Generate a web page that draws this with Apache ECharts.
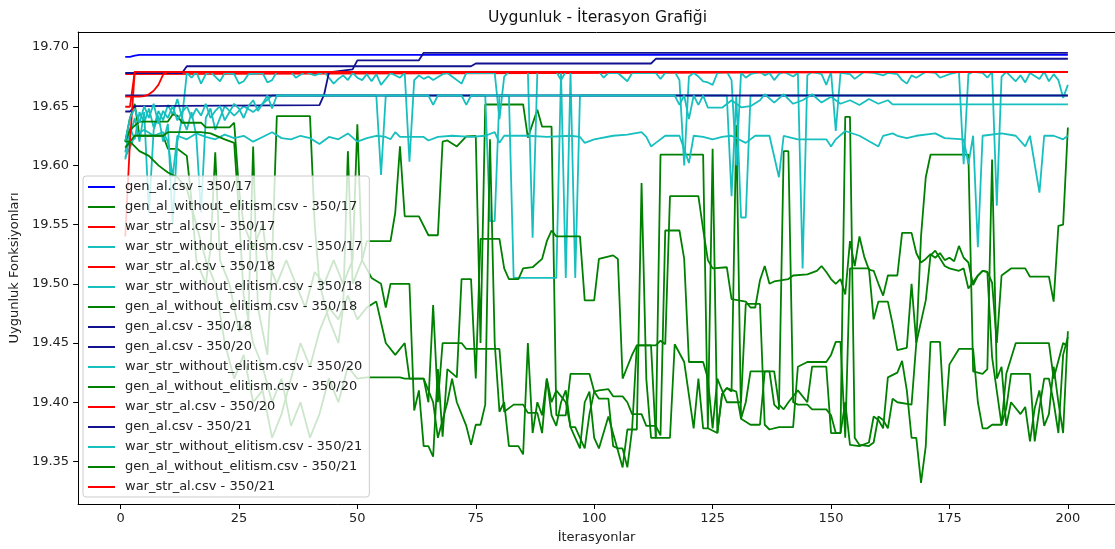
<!DOCTYPE html>
<html><head><meta charset="utf-8">
<script src="https://cdn.jsdelivr.net/npm/echarts@6/dist/echarts.min.js"></script>
<style>html,body{margin:0;padding:0;background:#fff}#c{width:1115px;height:549px}</style>
</head><body><div id="c"></div>
<script>
const xTicks = [0,25,50,75,100,125,150,175,200];
const yTicks = [19.35,19.40,19.45,19.50,19.55,19.60,19.65,19.70];
const seriesNames = [
 'gen_al.csv - 350/17','gen_al_without_elitism.csv - 350/17','war_str_al.csv - 350/17','war_str_without_elitism.csv - 350/17',
 'war_str_al.csv - 350/18','war_str_without_elitism.csv - 350/18','gen_al_without_elitism.csv - 350/18','gen_al.csv - 350/18',
 'gen_al.csv - 350/20','war_str_without_elitism.csv - 350/20','gen_al_without_elitism.csv - 350/20','war_str_al.csv - 350/20',
 'gen_al.csv - 350/21','war_str_without_elitism.csv - 350/21','gen_al_without_elitism.csv - 350/21','war_str_al.csv - 350/21'];

const genAl17 = [[1,19.6916],[2,19.6916],[3,19.6927],[4,19.6933],[200,19.6933]];
const genAl18 = [[1,19.678],[13,19.678],[14,19.6837],[74,19.6837],[75,19.686],[112,19.686],[113,19.690],[200,19.690]];
const genAl20 = [[1,19.6455],[2,19.6455],[3,19.650],[42,19.6509],[43,19.66],[44,19.6785],[49,19.681],[50,19.6887],[63,19.6887],[64,19.695],[200,19.695]];
const genAl21 = [[1,19.659],[200,19.659]];

const warAl17 = [[1,19.677],[200,19.679]];
const warAl18 = [[1,19.6495],[2,19.6495],[3,19.679],[200,19.679]];
const warAl20 = [[1,19.54],[2,19.62],[3,19.679],[200,19.679]];
const warAl21 = [[1,19.658],[4,19.658],[5,19.6585],[6,19.66],[7,19.663],[8,19.668],[9,19.6767],[10,19.679],[200,19.679]];

const warWo17 = [[1,19.611],[2,19.632],[3,19.622],[4,19.645],[5,19.636],[6,19.648],[7,19.632],[8,19.646],[9,19.638],[10,19.651],[11,19.643],[12,19.656],[13,19.64],[14,19.678],[15,19.674],[16,19.679],[17,19.669],[18,19.677],[19,19.679],[21,19.671],[22,19.678],[24,19.677],[25,19.669],[26,19.671],[27,19.677],[30,19.678],[31,19.67],[32,19.672],[33,19.679],[36,19.679],[37,19.674],[39,19.679],[41,19.676],[43,19.679],[45,19.669],[46,19.673],[47,19.676],[48,19.672],[49,19.678],[50,19.674],[51,19.672],[52,19.677],[53,19.671],[54,19.677],[55,19.668],[57,19.678],[59,19.674],[60,19.678],[61,19.603],[62,19.672],[63,19.676],[64,19.673],[65,19.675],[66,19.672],[68,19.677],[69,19.678],[70,19.675],[72,19.669],[73,19.678],[79,19.678],[80,19.639],[81,19.675],[82,19.679],[86,19.679],[87,19.539],[88,19.679],[92,19.679],[93,19.672],[94,19.679],[101,19.679],[102,19.674],[103,19.678],[105,19.678],[107,19.671],[108,19.678],[113,19.678],[114,19.673],[115,19.678],[117,19.679],[118,19.672],[119,19.60],[120,19.675],[121,19.678],[122,19.675],[123,19.671],[124,19.67],[125,19.668],[126,19.678],[128,19.679],[129,19.672],[130,19.60],[131,19.678],[132,19.674],[133,19.677],[135,19.679],[136,19.676],[137,19.678],[138,19.672],[139,19.677],[140,19.679],[142,19.675],[143,19.678],[144,19.513],[145,19.676],[146,19.679],[148,19.677],[149,19.668],[150,19.679],[151,19.629],[152,19.678],[154,19.677],[155,19.673],[157,19.679],[159,19.678],[161,19.676],[162,19.678],[164,19.677],[165,19.672],[166,19.669],[167,19.676],[168,19.674],[170,19.679],[172,19.678],[173,19.674],[175,19.677],[177,19.679],[178,19.601],[179,19.677],[180,19.679],[182,19.678],[183,19.674],[184,19.679],[185,19.566],[186,19.675],[187,19.679],[189,19.671],[190,19.676],[191,19.67],[192,19.678],[194,19.673],[195,19.679],[196,19.671],[197,19.677],[198,19.672],[199,19.657],[200,19.668]];
const warWo18 = [[1,19.605],[2,19.625],[3,19.64],[4,19.62],[5,19.645],[6,19.56],[7,19.63],[8,19.642],[9,19.62],[10,19.635],[11,19.55],[12,19.62],[13,19.64],[14,19.63],[15,19.645],[16,19.625],[17,19.56],[18,19.64],[19,19.648],[20,19.63],[22,19.65],[24,19.642],[26,19.65],[28,19.645],[30,19.652],[32,19.659],[54,19.659],[55,19.592],[56,19.659],[77,19.659],[78,19.553],[79,19.553],[80,19.659],[82,19.659],[83,19.505],[92,19.505],[93,19.678],[94,19.505],[95,19.678],[96,19.505],[97,19.659],[128,19.659],[129,19.574],[130,19.659],[131,19.556],[132,19.556],[133,19.659],[200,19.659]];
const warWo20 = [[1,19.607],[2,19.615],[3,19.625],[5,19.63],[7,19.625],[9,19.628],[10,19.62],[11,19.59],[12,19.625],[14,19.622],[16,19.627],[18,19.624],[20,19.622],[22,19.626],[24,19.623],[26,19.625],[28,19.62],[30,19.624],[32,19.628],[34,19.623],[36,19.622],[38,19.625],[40,19.623],[42,19.618],[44,19.624],[46,19.622],[48,19.627],[50,19.62],[52,19.623],[54,19.625],[56,19.624],[57,19.622],[58,19.628],[59,19.624],[64,19.624],[65,19.621],[67,19.624],[70,19.625],[74,19.624],[77,19.625],[79,19.628],[80,19.619],[81,19.625],[86,19.625],[90,19.624],[95,19.625],[97,19.624],[98,19.619],[100,19.622],[104,19.625],[107,19.626],[110,19.628],[111,19.624],[112,19.616],[113,19.619],[115,19.625],[118,19.625],[120,19.602],[121,19.625],[123,19.624],[125,19.622],[127,19.624],[129,19.625],[132,19.619],[134,19.625],[137,19.625],[139,19.59],[140,19.625],[143,19.622],[149,19.622],[150,19.616],[151,19.622],[153,19.629],[156,19.625],[160,19.616],[161,19.625],[163,19.627],[164,19.625],[166,19.623],[168,19.625],[172,19.627],[174,19.623],[178,19.622],[179,19.601],[180,19.625],[181,19.531],[182,19.625],[186,19.627],[189,19.625],[191,19.616],[192,19.625],[194,19.577],[195,19.625],[197,19.625],[199,19.622],[200,19.625]];
const warWo21 = [[1,19.62],[2,19.64],[3,19.648],[4,19.636],[5,19.65],[6,19.64],[7,19.652],[8,19.635],[9,19.646],[10,19.64],[11,19.65],[12,19.638],[13,19.645],[14,19.65],[15,19.64],[16,19.648],[17,19.642],[18,19.652],[19,19.64],[20,19.646],[21,19.65],[22,19.638],[23,19.645],[24,19.652],[25,19.648],[26,19.64],[27,19.65],[28,19.655],[29,19.646],[30,19.652],[31,19.659],[32,19.648],[33,19.659],[65,19.659],[66,19.651],[67,19.659],[72,19.659],[73,19.651],[74,19.659],[117,19.659],[118,19.651],[119,19.659],[120,19.639],[121,19.659],[122,19.651],[123,19.659],[124,19.6487],[127,19.6487],[129,19.655],[131,19.649],[133,19.65],[135,19.655],[136,19.66],[138,19.653],[140,19.66],[142,19.652],[144,19.655],[146,19.66],[148,19.653],[150,19.658],[152,19.652],[154,19.655],[156,19.651],[158,19.656],[160,19.652],[162,19.655],[163,19.6515],[200,19.6515]];

const genWo17 = [[1,19.62],[2,19.64],[3,19.652],[4,19.625],[9,19.625],[10,19.614],[12,19.614],[14,19.608],[15,19.57],[16,19.52],[18,19.50],[19,19.53],[20,19.611],[21,19.52],[23,19.50],[25,19.46],[27,19.47],[28,19.616],[29,19.48],[31,19.44],[32,19.52],[33,19.6416],[40,19.6416],[41,19.55],[42,19.50],[44,19.47],[46,19.45],[47,19.48],[48,19.612],[49,19.50],[51,19.52],[52,19.536],[57,19.536],[58,19.56],[59,19.616],[60,19.557],[63,19.557],[65,19.541],[67,19.541],[68,19.62],[69,19.621],[71,19.616],[73,19.6245],[75,19.6248],[76,19.45],[77,19.6514],[85,19.6514],[86,19.6234],[88,19.647],[89,19.6327],[91,19.6327],[92,19.389],[94,19.389],[95,19.424],[99,19.424],[100,19.409],[101,19.403],[103,19.403],[104,19.363],[105,19.361],[106,19.361],[107,19.345],[108,19.377],[109,19.377],[110,19.585],[111,19.42],[112,19.37],[113,19.37],[114,19.609],[123,19.609],[124,19.378],[125,19.614],[126,19.374],[127,19.407],[128,19.412],[129,19.409],[130,19.634],[131,19.386],[132,19.40],[133,19.426],[137,19.426],[138,19.398],[139,19.394],[140,19.612],[141,19.612],[142,19.40],[143,19.398],[145,19.398],[146,19.394],[149,19.394],[150,19.389],[151,19.374],[152,19.374],[153,19.641],[154,19.641],[155,19.37],[156,19.364],[158,19.363],[159,19.366],[160,19.388],[161,19.385],[162,19.378],[163,19.403],[164,19.40],[167,19.398],[168,19.45],[169,19.54],[170,19.59],[171,19.609],[179,19.609],[180,19.426],[182,19.424],[183,19.428],[184,19.605],[185,19.42],[186,19.43],[187,19.38],[188,19.40],[190,19.39],[191,19.396],[192,19.367],[193,19.395],[194,19.41],[195,19.38],[196,19.39],[197,19.43],[198,19.40],[199,19.374],[200,19.46]];
const genWo18 = [[1,19.62],[2,19.63],[4,19.637],[10,19.637],[11,19.643],[12,19.642],[13,19.636],[17,19.636],[18,19.632],[23,19.632],[24,19.636],[25,19.58],[26,19.55],[28,19.53],[30,19.55],[31,19.52],[33,19.50],[35,19.52],[37,19.50],[39,19.48],[41,19.51],[43,19.50],[45,19.52],[47,19.50],[49,19.52],[50,19.6346],[51,19.52],[53,19.505],[55,19.50],[56,19.48],[57,19.50],[61,19.50],[62,19.393],[63,19.41],[64,19.363],[65,19.363],[66,19.354],[67,19.428],[68,19.371],[69,19.428],[71,19.421],[72,19.504],[74,19.504],[75,19.42],[76,19.538],[80,19.538],[81,19.513],[82,19.504],[84,19.504],[85,19.513],[87,19.514],[89,19.521],[90,19.536],[91,19.545],[92,19.54],[97,19.54],[98,19.486],[100,19.486],[101,19.521],[104,19.524],[105,19.521],[106,19.42],[107,19.43],[108,19.44],[109,19.448],[113,19.448],[114,19.452],[115,19.449],[116,19.574],[122,19.574],[123,19.546],[124,19.52],[125,19.513],[128,19.514],[129,19.487],[132,19.485],[133,19.48],[134,19.48],[135,19.503],[136,19.515],[137,19.50],[138,19.502],[141,19.504],[142,19.507],[145,19.508],[147,19.511],[148,19.515],[149,19.51],[150,19.504],[151,19.50],[152,19.504],[153,19.491],[154,19.536],[155,19.515],[156,19.54],[157,19.523],[158,19.512],[159,19.511],[160,19.50],[161,19.49],[162,19.507],[164,19.507],[165,19.543],[167,19.543],[168,19.526],[169,19.518],[170,19.521],[171,19.525],[172,19.522],[173,19.526],[174,19.52],[175,19.522],[176,19.519],[177,19.532],[178,19.522],[179,19.518],[180,19.499],[181,19.507],[182,19.511],[183,19.51],[184,19.501],[185,19.45],[186,19.507],[188,19.513],[191,19.513],[192,19.506],[196,19.506],[197,19.485],[198,19.549],[199,19.55],[200,19.632]];
const genWo20 = [[1,19.615],[3,19.625],[9,19.625],[10,19.628],[17,19.628],[19,19.627],[22,19.622],[24,19.619],[25,19.56],[26,19.49],[28,19.45],[30,19.43],[32,19.40],[34,19.42],[36,19.38],[38,19.40],[40,19.37],[42,19.39],[44,19.42],[46,19.40],[48,19.43],[50,19.42],[52,19.421],[59,19.421],[60,19.42],[64,19.42],[65,19.40],[66,19.482],[67,19.40],[68,19.45],[72,19.45],[73,19.445],[80,19.445],[81,19.392],[83,19.398],[85,19.398],[86,19.391],[88,19.391],[89,19.374],[90,19.42],[91,19.40],[92,19.41],[94,19.40],[95,19.379],[96,19.379],[97,19.37],[98,19.361],[99,19.39],[100,19.409],[101,19.41],[103,19.411],[104,19.405],[106,19.405],[107,19.40],[108,19.39],[110,19.39],[111,19.38],[113,19.38],[114,19.372],[115,19.545],[118,19.545],[119,19.521],[120,19.434],[123,19.434],[124,19.42],[125,19.378],[126,19.42],[128,19.40],[131,19.40],[132,19.483],[135,19.483],[136,19.381],[137,19.377],[139,19.379],[142,19.379],[143,19.43],[145,19.434],[149,19.434],[150,19.44],[151,19.451],[152,19.451],[153,19.37],[154,19.513],[158,19.513],[159,19.47],[160,19.485],[162,19.485],[163,19.466],[164,19.444],[166,19.446],[167,19.50],[168,19.45],[170,19.486],[171,19.524],[172,19.528],[174,19.515],[175,19.513],[177,19.511],[178,19.513],[179,19.496],[181,19.507],[182,19.511],[183,19.51],[184,19.438],[186,19.381],[187,19.424],[189,19.45],[196,19.45],[197,19.42],[199,19.45],[200,19.447]];
const genWo21 = [[1,19.62],[2,19.62],[4,19.612],[6,19.608],[8,19.60],[10,19.594],[12,19.59],[14,19.58],[16,19.55],[18,19.52],[20,19.50],[22,19.45],[24,19.42],[26,19.44],[28,19.40],[30,19.41],[32,19.37],[34,19.39],[36,19.42],[38,19.45],[40,19.43],[42,19.46],[44,19.48],[46,19.47],[48,19.49],[50,19.47],[52,19.48],[54,19.485],[56,19.45],[58,19.44],[60,19.45],[61,19.42],[64,19.42],[66,19.40],[67,19.37],[69,19.40],[70,19.42],[71,19.40],[73,19.38],[74,19.364],[75,19.381],[76,19.381],[77,19.398],[78,19.622],[79,19.45],[80,19.392],[81,19.40],[82,19.363],[84,19.363],[85,19.356],[86,19.45],[87,19.374],[88,19.40],[89,19.389],[90,19.42],[91,19.389],[92,19.38],[93,19.40],[94,19.41],[95,19.379],[96,19.37],[97,19.361],[98,19.40],[99,19.409],[100,19.37],[101,19.361],[103,19.388],[106,19.345],[107,19.377],[108,19.377],[109,19.448],[112,19.448],[113,19.37],[116,19.37],[117,19.449],[119,19.434],[121,19.378],[122,19.42],[123,19.378],[124,19.378],[126,19.374],[127,19.407],[128,19.412],[130,19.409],[131,19.386],[133,19.381],[135,19.381],[136,19.426],[138,19.426],[139,19.398],[140,19.394],[141,19.40],[143,19.41],[145,19.40],[146,19.43],[149,19.43],[150,19.374],[152,19.374],[153,19.40],[154,19.364],[156,19.363],[158,19.366],[159,19.388],[160,19.385],[161,19.378],[162,19.421],[164,19.425],[165,19.435],[166,19.41],[167,19.37],[168,19.37],[169,19.332],[170,19.363],[171,19.451],[173,19.451],[174,19.38],[175,19.432],[177,19.445],[180,19.445],[181,19.40],[182,19.378],[183,19.378],[184,19.381],[186,19.381],[187,19.395],[188,19.424],[192,19.424],[193,19.367],[194,19.395],[195,19.42],[196,19.42],[197,19.40],[198,19.374],[199,19.44],[200,19.455]];

const BLUE='#0000ff', NAVY='#12128f', GREEN='#008000', RED='#ff0000', CYAN='#17bfbf';
const seriesData = [genAl17, genWo17, warAl17, warWo17, warAl18, warWo18, genWo18, genAl18, genAl20, warWo20, genWo20, warAl20, genAl21, warWo21, genWo21, warAl21];
const seriesColors = [BLUE, GREEN, RED, CYAN, RED, CYAN, GREEN, NAVY, NAVY, CYAN, GREEN, RED, NAVY, CYAN, GREEN, RED];

const FONT = 'DejaVu Sans';
const chart = echarts.init(document.getElementById('c'), null, {renderer:'canvas'});
chart.setOption({
  animation: false,
  backgroundColor: '#fff',
  textStyle: {fontFamily: FONT},
  graphic: [{type:'text', x:597.5, y:18, style:{text:'Uygunluk - İterasyon Grafiği', font:'15.6px "DejaVu Sans"', fill:'#111', textAlign:'center', textVerticalAlign:'middle'}}],
  grid: {left:77, top:32, width:1041, height:474, show:false},
  xAxis: [{type:'value', min:-8.95, max:209.95, splitLine:{show:false},
    axisLine:{show:true, onZero:false, lineStyle:{color:'#000', width:1}},
    axisTick:{show:true, inside:false, length:5, customValues:xTicks, lineStyle:{color:'#000'}},
    axisLabel:{customValues:xTicks, fontSize:13, color:'#222', margin:8, fontFamily:FONT},
    name:'İterasyonlar', nameLocation:'middle', nameGap:27, nameTextStyle:{fontSize:13, color:'#222', fontFamily:FONT}},
   {type:'value', position:'top', min:-8.95, max:209.95, splitLine:{show:false},
    axisLine:{show:true, onZero:false, lineStyle:{color:'#000', width:1}},
    axisTick:{show:false}, axisLabel:{show:false}}],
  yAxis: {type:'value', min:19.3141, max:19.7126, splitLine:{show:false},
    axisLine:{show:true, onZero:false, lineStyle:{color:'#000', width:1}},
    axisTick:{show:true, inside:false, length:5, customValues:yTicks, lineStyle:{color:'#000'}},
    axisLabel:{customValues:yTicks, fontSize:13, color:'#222', margin:9, fontFamily:FONT, formatter:v=>v.toFixed(2)},
    name:'Uygunluk Fonksiyonları', nameLocation:'middle', nameGap:50, nameRotate:90, nameTextStyle:{fontSize:13, color:'#222', fontFamily:FONT}},
  legend: {orient:'vertical', left:83, top:176, data:seriesNames, icon:'rect', itemWidth:27, itemHeight:2, itemGap:6,
    padding:[4,7,3,5], backgroundColor:'rgba(255,255,255,0.8)', borderColor:'#cccccc', borderWidth:1, borderRadius:3,
    selectedMode:false, textStyle:{fontSize:13, lineHeight:14, color:'#222', fontFamily:FONT, padding:[0,0,0,5]}},
  series: seriesNames.map((n,i)=>({name:n, type:'line', xAxisIndex:0, data:seriesData[i], showSymbol:false, symbol:'none',
    color:seriesColors[i], lineStyle:{width:1.8, color:seriesColors[i]}, clip:true, z:2}))
});
</script></body></html>
